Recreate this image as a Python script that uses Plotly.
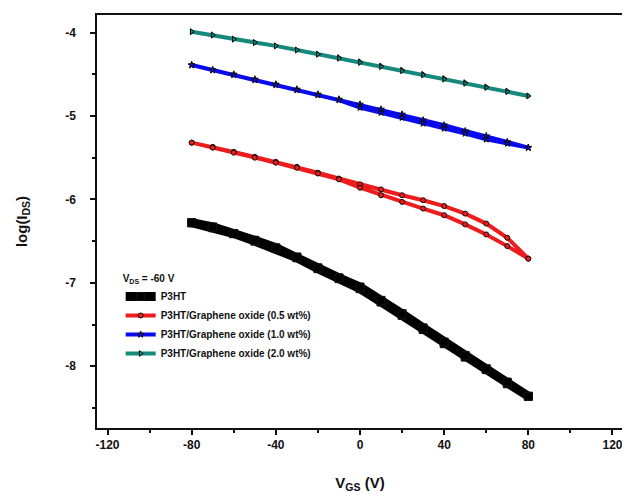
import plotly.graph_objects as go

# Gate voltage sweeps (V)
vgs_fwd = [-80, -70, -60, -50, -40, -30, -20, -10, 0, 10, 20, 30, 40, 50, 60, 70, 80]
vgs_rev = [80, 70, 60, 50, 40, 30, 20, 10, 0, -10, -20, -30, -40, -50, -60, -70, -80]

# log(I_DS) values
p3ht_fwd = [-6.28, -6.34, -6.41, -6.50, -6.59, -6.70, -6.83, -6.95, -7.07, -7.23, -7.39, -7.56, -7.73, -7.89, -8.04, -8.21, -8.36]
p3ht_rev = [-8.36, -8.19, -8.03, -7.87, -7.71, -7.54, -7.37, -7.21, -7.05, -6.94, -6.82, -6.69, -6.58, -6.49, -6.41, -6.33, -6.28]

red_fwd = [-5.32, -5.37, -5.43, -5.49, -5.55, -5.61, -5.68, -5.75, -5.82, -5.88, -5.95, -6.01, -6.08, -6.17, -6.29, -6.46, -6.71]
red_rev = [-6.71, -6.56, -6.42, -6.30, -6.19, -6.11, -6.03, -5.95, -5.86, -5.76, -5.69, -5.62, -5.56, -5.50, -5.44, -5.38, -5.32]

blue_fwd = [-4.39, -4.45, -4.50, -4.56, -4.62, -4.68, -4.74, -4.80, -4.86, -4.92, -4.98, -5.05, -5.11, -5.18, -5.24, -5.31, -5.38]
blue_rev = [-5.38, -5.33, -5.28, -5.21, -5.15, -5.09, -5.02, -4.96, -4.90, -4.81, -4.75, -4.69, -4.63, -4.57, -4.51, -4.45, -4.39]

teal_fwd = [-3.99, -4.03, -4.08, -4.12, -4.16, -4.21, -4.26, -4.30, -4.35, -4.40, -4.45, -4.50, -4.55, -4.60, -4.65, -4.70, -4.76]
teal_rev = [-4.76, -4.71, -4.66, -4.61, -4.56, -4.51, -4.46, -4.41, -4.36, -4.31, -4.26, -4.21, -4.16, -4.12, -4.08, -4.03, -3.99]

names = ["P3HT",
         "P3HT/Graphene oxide (0.5 wt%)",
         "P3HT/Graphene oxide (1.0 wt%)",
         "P3HT/Graphene oxide (2.0 wt%)"]

x_ticks = [-120, -80, -40, 0, 40, 80, 120]
y_ticks = [-4, -5, -6, -7, -8]

fig = go.Figure()

series = [
    (p3ht_fwd, p3ht_rev, names[0], "#000000", "square", 9, 8),
    (red_fwd, red_rev, names[1], "#ee1c1c", "circle", 4, 5),
    (blue_fwd, blue_rev, names[2], "#0a0aee", "star", 4, 5),
    (teal_fwd, teal_rev, names[3], "#158a7c", "triangle-right", 4, 5),
]

for fwd, rev, name, color, sym, lw, ms in series:
    fig.add_trace(go.Scatter(
        x=vgs_fwd + vgs_rev,
        y=fwd + rev,
        mode="lines+markers",
        name=name,
        line=dict(color=color, width=lw),
        marker=dict(symbol=sym, size=ms, color=color,
                    line=dict(color="#111111", width=1)),
    ))

FONT = "Liberation Sans, Arial, sans-serif"
axis_font = dict(family=FONT, size=12, color="#111111")

fig.update_layout(
    width=622, height=495,
    margin=dict(l=89, r=5, t=7, b=75),
    paper_bgcolor="white",
    plot_bgcolor="white",
    showlegend=True,
    legend=dict(
        x=0.045, y=0.385, xanchor="left", yanchor="top",
        bgcolor="rgba(0,0,0,0)",
        font=dict(family=FONT, size=10, color="#111111", weight="bold"),
        title=dict(text="<b>V<sub>DS</sub> = -60 V</b>",
                   font=dict(family=FONT, size=10, color="#111111")),
        itemwidth=30,
        tracegroupgap=0,
    ),
    xaxis=dict(
        range=[-125, 125],
        tickmode="array", tickvals=x_ticks, ticktext=[f"<b>{v}</b>" for v in x_ticks],
        ticks="outside", ticklen=5, tickwidth=1.5, tickcolor="#111111",
        minor=dict(ticks="outside", ticklen=3, dtick=20, tick0=0, tickcolor="#111111"),
        showline=True, linecolor="#111111", linewidth=1.5, mirror=True,
        showgrid=False, zeroline=False,
        tickfont=axis_font,
        title=dict(text="<b>V<sub>GS</sub> (V)</b>",
                   font=dict(family=FONT, size=15, color="#111111"),
                   standoff=26),
    ),
    yaxis=dict(
        range=[-8.74, -3.79],
        tickmode="array", tickvals=y_ticks, ticktext=[f"<b>{v}</b>" for v in y_ticks],
        ticks="outside", ticklen=5, tickwidth=1.5, tickcolor="#111111",
        minor=dict(ticks="outside", ticklen=3, dtick=0.5, tick0=0, tickcolor="#111111"),
        showline=True, linecolor="#111111", linewidth=1.5, mirror=True,
        showgrid=False, zeroline=False,
        tickfont=axis_font,
        ticklabelstandoff=12,
        title=dict(text="<b>log(I<sub>DS</sub>)</b>",
                   font=dict(family=FONT, size=15, color="#111111"),
                   standoff=34),
    ),
)

fig.write_html("out.html")
